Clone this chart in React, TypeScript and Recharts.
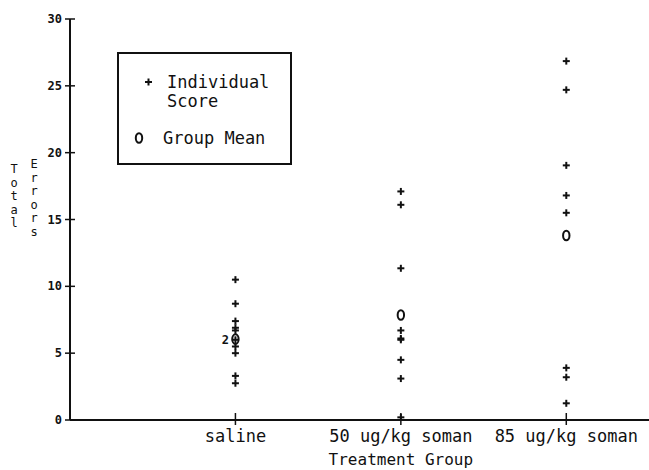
import { ScatterChart, Scatter, XAxis, YAxis, Legend } from "recharts";

const categories = ["saline", "50 ug/kg soman", "85 ug/kg soman"];
const salineScores = [10.5, 8.7, 7.4, 6.9, 6.7, 6.0, 5.5, 5.0, 3.3, 2.75];
const somanLowScores = [17.1, 16.1, 11.35, 6.7, 6.1, 6.0, 4.5, 3.1, 0.2];
const somanHighScores = [26.85, 24.7, 19.05, 16.8, 15.5, 3.9, 3.2, 1.25];
const groupMeans = [6.05, 7.85, 13.8];
const duplicateCounts = [{ group: 1, score: 6.0, count: 2 }];
const yTicks = [0, 5, 10, 15, 20, 25, 30];
const xTicks = [1, 2, 3];

const FONT = "'DejaVu Sans Mono', monospace";
const INK = "#111";

const individuals = [salineScores, somanLowScores, somanHighScores].flatMap((scores, i) =>
  scores.map((score) => {
    const dup = duplicateCounts.find((d) => d.group === i + 1 && d.score === score);
    return { x: i + 1, y: score, count: dup ? dup.count : 1 };
  })
);
const means = groupMeans.map((m, i) => ({ x: i + 1, y: m }));

const PlusShape = (props: any) => {
  const { cx, cy, payload } = props;
  return (
    <g>
      <line x1={cx - 3.5} x2={cx + 3.5} y1={cy} y2={cy} stroke={INK} strokeWidth={2} />
      <line x1={cx} x2={cx} y1={cy - 3.5} y2={cy + 3.5} stroke={INK} strokeWidth={2} />
      {payload && payload.count > 1 && (
        <text x={cx - 10} y={cy + 4} fontFamily={FONT} fontSize={12} fontWeight="bold" fill={INK} textAnchor="middle">
          {payload.count}
        </text>
      )}
    </g>
  );
};

const MeanShape = (props: any) => {
  const { cx, cy } = props;
  return <ellipse cx={cx} cy={cy} rx={3.2} ry={4.8} fill="none" stroke={INK} strokeWidth={2} />;
};

const YTick = (props: any) => {
  const { x, y, payload } = props;
  return (
    <g>
      <line x1={x - 5} x2={x + 5} y1={y} y2={y} stroke={INK} strokeWidth={1.5} />
      <text x={x - 8} y={y + 4} fontFamily={FONT} fontSize={12} fontWeight="bold" fill={INK} textAnchor="end">
        {payload.value}
      </text>
    </g>
  );
};

const XTick = (props: any) => {
  const { x, y, payload, index } = props;
  return (
    <g>
      <line x1={x} x2={x} y1={y - 7} y2={y + 5} stroke={INK} strokeWidth={1.5} />
      <text x={x} y={y + 22} fontFamily={FONT} fontSize={17} fill={INK} textAnchor="middle">
        {categories[payload.value - 1]}
      </text>
      {index === 1 && (
        <text x={x} y={y + 45} fontFamily={FONT} fontSize={16} fill={INK} textAnchor="middle">
          Treatment Group
        </text>
      )}
    </g>
  );
};

const YTitle = () => (
  <g fontFamily={FONT} fontSize={12} fill={INK} textAnchor="middle">
    {"Total".split("").map((ch, i) => (
      <text key={"t" + i} x={14} y={173 + i * 13.5}>{ch}</text>
    ))}
    {"Errors".split("").map((ch, i) => (
      <text key={"e" + i} x={34} y={168 + i * 13.5}>{ch}</text>
    ))}
  </g>
);

const LegendBox = () => (
  <div
    style={{
      width: 171,
      height: 109,
      border: `2px solid ${INK}`,
      fontFamily: FONT,
      fontSize: 17,
      color: INK,
      position: "relative",
      background: "#fff",
    }}
  >
    <svg width={171} height={109} style={{ position: "absolute", left: 0, top: 0 }}>
      <line x1={26} x2={33} y1={28} y2={28} stroke={INK} strokeWidth={2} />
      <line x1={29.5} x2={29.5} y1={24.5} y2={31.5} stroke={INK} strokeWidth={2} />
      <ellipse cx={20} cy={84} rx={3.2} ry={4.8} fill="none" stroke={INK} strokeWidth={2} />
      <text x={48} y={34} fontFamily={FONT} fontSize={17} fill={INK}>Individual</text>
      <text x={48} y={53} fontFamily={FONT} fontSize={17} fill={INK}>Score</text>
      <text x={44} y={90} fontFamily={FONT} fontSize={17} fill={INK}>Group Mean</text>
    </svg>
  </div>
);

export default function App() {
  return (
    <div style={{ position: "fixed", left: 0, top: 0, width: 649, height: 470, background: "#fff" }}>
      <ScatterChart width={649} height={470} margin={{ top: 19, right: 0, bottom: 20, left: 30 }}>
        <XAxis
          type="number"
          dataKey="x"
          domain={[0, 3.5]}
          ticks={xTicks}
          tick={<XTick />}
          tickLine={false}
          tickSize={0}
          tickMargin={0}
          height={30}
          axisLine={{ stroke: INK, strokeWidth: 2 }}
        />
        <YAxis
          type="number"
          dataKey="y"
          domain={[0, 30]}
          ticks={yTicks}
          tick={<YTick />}
          tickLine={false}
          tickSize={0}
          tickMargin={0}
          width={40}
          axisLine={{ stroke: INK, strokeWidth: 2 }}
          label={<YTitle />}
        />
        <Legend
          layout="vertical"
          align="center"
          verticalAlign="middle"
          content={<LegendBox />}
          wrapperStyle={{ left: 117, top: 52, width: 175, height: 113 }}
        />
        <Scatter name="Individual Score" data={individuals} shape={<PlusShape />} isAnimationActive={false} />
        <Scatter name="Group Mean" data={means} shape={<MeanShape />} isAnimationActive={false} />
      </ScatterChart>
    </div>
  );
}
